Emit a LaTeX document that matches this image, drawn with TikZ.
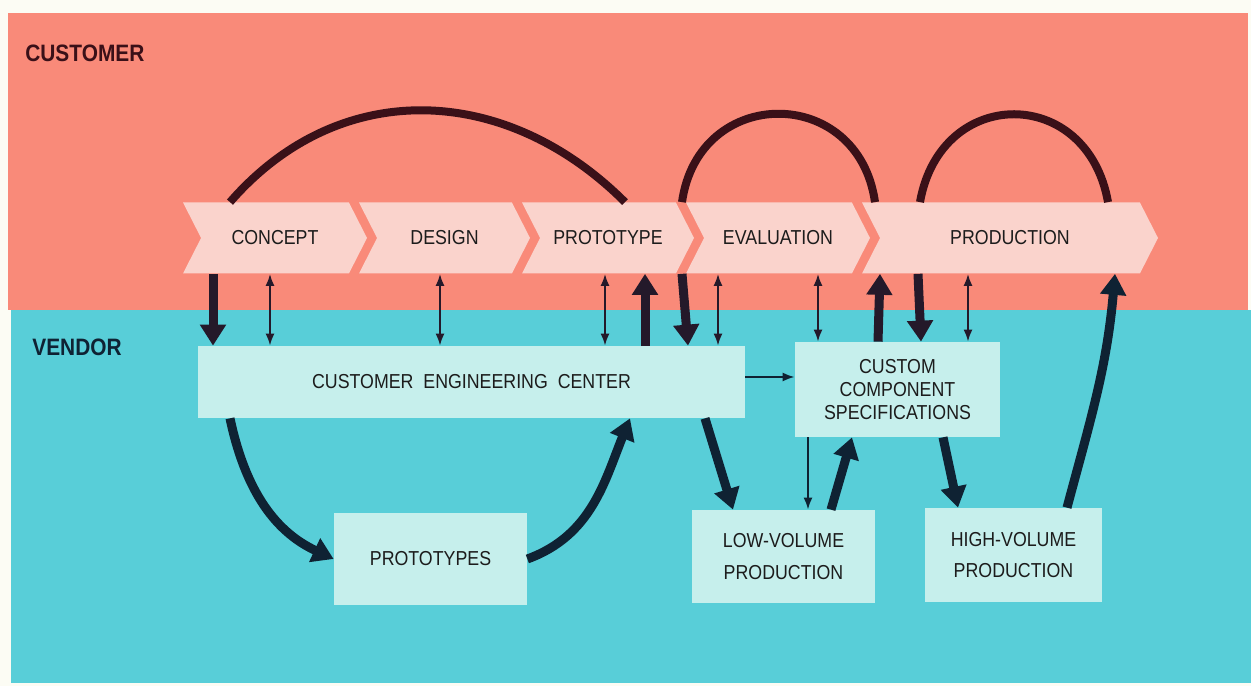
\documentclass[tikz,border=0pt]{standalone}
\usepackage{fontspec}
\setmainfont{Liberation Sans}[FakeStretch=0.88]
\usetikzlibrary{arrows.meta,shapes.symbols}

\definecolor{paper}{HTML}{FCFCF4}
\definecolor{custband}{HTML}{F98A79}
\definecolor{vendband}{HTML}{58CED8}
\definecolor{stagefill}{HTML}{FAD3CC}
\definecolor{unitfill}{HTML}{C6EFEC}
\definecolor{inkred}{HTML}{3A1018}
\definecolor{inknavy}{HTML}{0F2233}
\definecolor{inkmix}{HTML}{24192A}
\definecolor{textink}{HTML}{1C1C1C}

\begin{document}
\begin{tikzpicture}[>=Latex,
    every node/.style={align=center, font=\fontsize{11.5}{13}\selectfont, text=textink},
    lane/.style={font=\bfseries\fontsize{13.5}{15}\selectfont, inner sep=0pt, anchor=west},
    stagebox/.style={signal, signal to=east, signal from=west, signal pointer angle=126,
      fill=stagefill, minimum height=1.42cm, inner sep=0pt},
    unitbox/.style={fill=unitfill, inner sep=0pt},
    arcline/.style={line width=0.16cm, draw=inkred},
    heavy/.style={line width=0.18cm, draw=inknavy, -{Triangle[width=0.5cm,length=0.42cm]}},
    thinduo/.style={line width=0.04cm, draw=inkmix,
      {Latex[width=0.18cm,length=0.24cm]}-{Latex[width=0.18cm,length=0.24cm]}},
    thinone/.style={line width=0.04cm, draw=inknavy, -{Latex[width=0.18cm,length=0.24cm]}}]

  \useasboundingbox (0,0) rectangle (25.02,13.72);
  \fill[paper] (0,0) rectangle (25.02,13.72);
  \fill[custband] (0.16,7.52) rectangle (24.96,13.46);
  \fill[vendband] (0.22,0.06) rectangle (25.02,7.52);

  \node[lane, text=inkred] (custlabel) at (0.5,12.66) {CUSTOMER};
  \node[lane, text=inknavy] (vendlabel) at (0.64,6.78) {VENDOR};

  % customer stages
  \node[stagebox, minimum width=3.68cm] (concept) at (5.50,8.96) {CONCEPT};
  \node[stagebox, minimum width=3.42cm] (design) at (8.89,8.96) {DESIGN};
  \node[stagebox, minimum width=3.44cm] (prototype) at (12.16,8.96) {PROTOTYPE};
  \node[stagebox, minimum width=3.68cm] (evaluation) at (15.56,8.96) {EVALUATION};
  \node[stagebox, minimum width=5.92cm] (production) at (20.2,8.96) {PRODUCTION};

  % vendor units
  \node[unitbox, minimum width=10.94cm, minimum height=1.44cm] (cec) at (9.43,6.08) {CUSTOMER\ \ ENGINEERING\ \ CENTER};
  \node[unitbox, minimum width=3.86cm, minimum height=1.84cm] (prototypes) at (8.61,2.54) {PROTOTYPES};
  \node[unitbox, minimum width=3.66cm, minimum height=1.86cm] (lowvol) at (15.67,2.59) {LOW-VOLUME\\[5pt]PRODUCTION};
  \node[unitbox, minimum width=4.1cm, minimum height=1.9cm] (specs) at (17.95,5.93) {CUSTOM\\COMPONENT\\SPECIFICATIONS};
  \node[unitbox, minimum width=3.54cm, minimum height=1.88cm] (highvol) at (20.27,2.62) {HIGH-VOLUME\\[5pt]PRODUCTION};

  % loops over the stages
  \draw[arcline] (concept.north -| 4.6,0) .. controls +(49:3.35) and +(135:3.35) .. (prototype.north -| 12.5,0);
  \draw[arcline] (prototype.north -| 13.64,0) .. controls +(82:2.38) and +(98:2.38) .. (production.north -| 17.5,0);
  \draw[arcline] (production.north -| 18.4,0) .. controls +(80:2.38) and +(100:2.38) .. (production.north -| 22.16,0);

  % heavy flows
  \draw[heavy, draw=inkmix] (concept.south -| 4.26,0) -- (cec.north -| 4.26,0);
  \draw[heavy, draw=inkmix] (cec.north -| 12.9,0) -- (prototype.south -| 12.9,0);
  \draw[heavy, draw=inkmix] (prototype.south -| 13.64,0) -- (cec.north -| 13.76,0);
  \draw[heavy, draw=inkmix] (specs.north -| 17.56,0) -- (production.south -| 17.6,0);
  \draw[heavy, draw=inkmix] (production.south -| 18.36,0) -- (specs.north -| 18.42,0);
  \draw[heavy] (highvol.north -| 21.34,0) to[out=75,in=-95] (production.south -| 22.3,0);
  \draw[heavy] (cec.south -| 4.6,0) to[out=-78,in=155] (prototypes.west);
  \draw[heavy] (prototypes.east) to[out=20,in=-112] (cec.south -| 12.6,0);
  \draw[heavy] (cec.south -| 14.1,0) -- (lowvol.north -| 14.66,0);
  \draw[heavy] (lowvol.north -| 16.62,0) -- (specs.south -| 17.04,0);
  \draw[heavy] (specs.south -| 18.86,0) -- (highvol.north -| 19.16,0);

  % thin exchanges
  \draw[thinduo] (concept.south -| 5.4,0) -- (cec.north -| 5.4,0);
  \draw[thinduo] (design.south -| 8.8,0) -- (cec.north -| 8.8,0);
  \draw[thinduo] (prototype.south -| 12.1,0) -- (cec.north -| 12.1,0);
  \draw[thinduo] (evaluation.south -| 14.36,0) -- (cec.north -| 14.36,0);
  \draw[thinduo] (evaluation.south -| 16.36,0) -- (specs.north -| 16.36,0);
  \draw[thinduo] (production.south -| 19.36,0) -- (specs.north -| 19.36,0);
  \draw[thinone] (cec.east |- 0,6.18) -- (specs.west |- 0,6.18);
  \draw[thinone] (specs.south -| 16.16,0) -- (lowvol.north -| 16.16,0);
\end{tikzpicture}
\end{document}
